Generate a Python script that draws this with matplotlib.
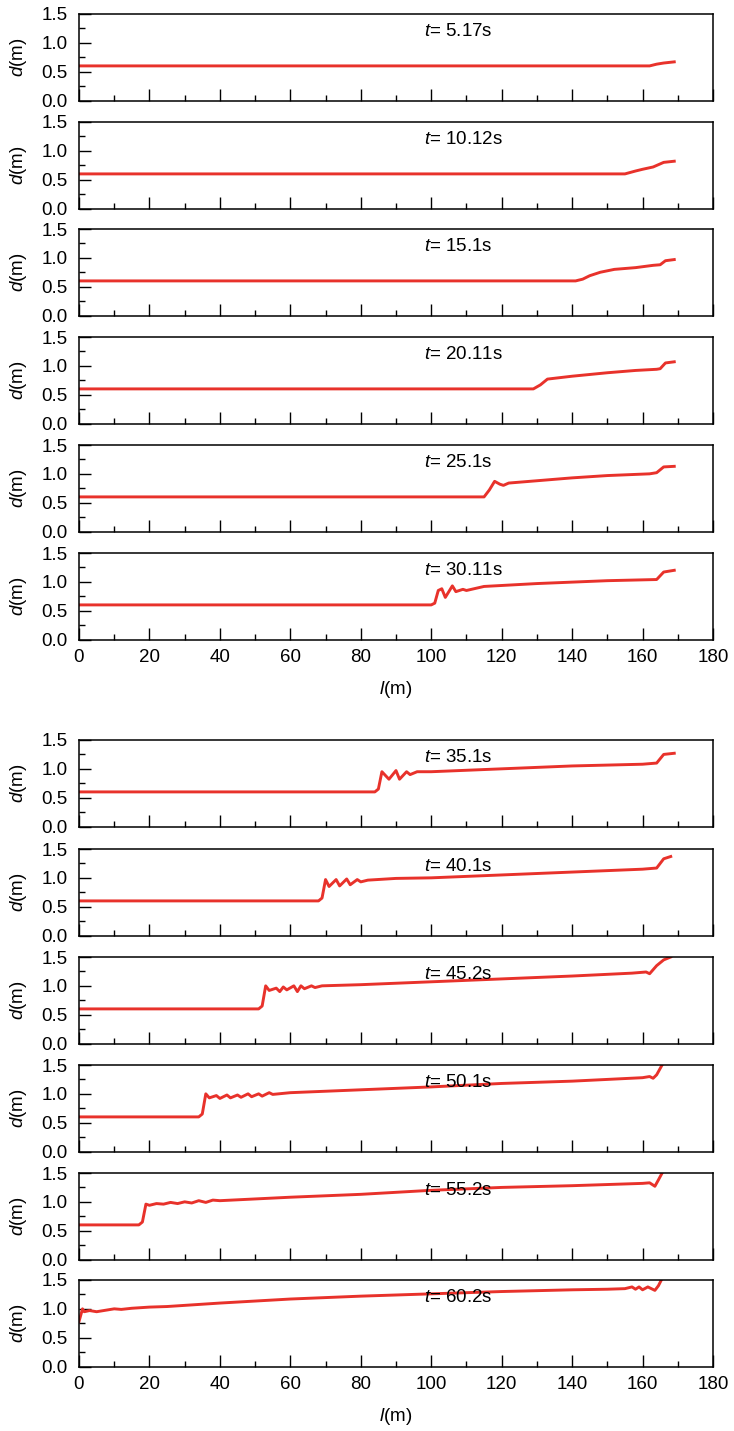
import matplotlib
matplotlib.use("Agg")
import matplotlib.pyplot as plt
from matplotlib.ticker import MultipleLocator

plt.rcParams['font.family'] = ['Liberation Sans', 'DejaVu Sans']
plt.rcParams['mathtext.fontset'] = 'custom'
plt.rcParams['mathtext.rm'] = 'Liberation Sans'
plt.rcParams['mathtext.it'] = 'Liberation Sans:italic'

times = ["5.17", "10.12", "15.1", "20.11", "25.1", "30.11",
         "35.1", "40.1", "45.2", "50.1", "55.2", "60.2"]

x1 = [0, 162, 164, 166, 169]
y1 = [0.6, 0.6, 0.63, 0.65, 0.67]

x2 = [0, 155, 158, 160, 163, 166, 169]
y2 = [0.6, 0.6, 0.65, 0.68, 0.72, 0.8, 0.82]

x3 = [0, 141, 143, 145, 148, 152, 158, 163, 165, 166.5, 169]
y3 = [0.6, 0.6, 0.63, 0.69, 0.75, 0.8, 0.83, 0.87, 0.88, 0.95, 0.97]

x4 = [0, 129, 131, 133, 140, 150, 158, 164, 165, 166.5, 169]
y4 = [0.6, 0.6, 0.67, 0.77, 0.82, 0.88, 0.92, 0.94, 0.95, 1.05, 1.07]

x5 = [0, 115, 116.5, 118, 119.5, 120.5, 122, 130, 140, 150, 162, 164, 166, 169]
y5 = [0.6, 0.6, 0.72, 0.87, 0.82, 0.8, 0.84, 0.88, 0.93, 0.97, 1.0, 1.02, 1.12, 1.13]

x6 = [0, 100, 101, 102, 103, 104, 106, 107, 109, 110, 115, 130, 150, 164, 166, 169]
y6 = [0.6, 0.6, 0.63, 0.85, 0.88, 0.73, 0.93, 0.83, 0.87, 0.85, 0.92, 0.97, 1.02, 1.04, 1.17, 1.2]

x7 = [0, 84, 85, 86, 88, 90, 91, 93, 94, 96, 100, 120, 140, 160, 164, 166, 169]
y7 = [0.6, 0.6, 0.65, 0.95, 0.82, 0.97, 0.82, 0.95, 0.9, 0.95, 0.95, 1.0, 1.05, 1.08, 1.1, 1.25, 1.27]

x8 = [0, 68, 69, 70, 71, 73, 74, 76, 77, 79, 80, 82, 90, 100, 120, 140, 160, 164, 166, 168]
y8 = [0.6, 0.6, 0.65, 0.97, 0.85, 0.97, 0.86, 0.98, 0.88, 0.97, 0.93, 0.96, 0.99, 1.0, 1.05, 1.1, 1.15, 1.17, 1.33, 1.37]

x9 = [0, 51, 52, 53, 54, 56, 57, 58, 59, 61, 62, 63, 64, 66, 67, 69, 80, 100, 120, 140,
      157, 161, 162, 164, 166, 168]
y9 = [0.6, 0.6, 0.65, 1.0, 0.92, 0.96, 0.9, 0.98, 0.93, 1.0, 0.9, 1.0, 0.95, 1.0, 0.97, 1.0,
      1.02, 1.07, 1.12, 1.17, 1.22, 1.24, 1.21, 1.35, 1.45, 1.5]

x10 = [0, 34, 35, 36, 37, 39, 40, 42, 43, 45, 46, 48, 49, 51, 52, 54, 55, 60, 80, 100,
       120, 140, 160, 162, 163, 164, 166]
y10 = [0.6, 0.6, 0.65, 1.0, 0.93, 0.97, 0.92, 0.98, 0.93, 0.98, 0.94, 1.0, 0.95, 1.0, 0.96,
       1.02, 0.99, 1.02, 1.07, 1.12, 1.18, 1.22, 1.28, 1.3, 1.27, 1.33, 1.55]

x11 = [0, 17, 18, 19, 20, 22, 24, 26, 28, 30, 32, 34, 36, 38, 40, 60, 80, 100, 120, 140,
       160, 162, 163.5, 164.5, 166]
y11 = [0.6, 0.6, 0.65, 0.96, 0.94, 0.97, 0.96, 0.99, 0.97, 1.0, 0.98, 1.02, 0.99, 1.03, 1.02,
       1.08, 1.13, 1.2, 1.25, 1.28, 1.32, 1.33, 1.27, 1.38, 1.55]

x12 = [0, 1, 1.5, 3, 5, 8, 10, 12, 15, 20, 25, 40, 60, 80, 100, 120, 140, 150, 155, 157,
       158, 159, 160, 161.5, 162.5, 163.5, 164.5, 166]
y12 = [0.78, 1.0, 0.95, 0.97, 0.95, 0.98, 1.0, 0.99, 1.01, 1.03, 1.04, 1.1, 1.17, 1.22, 1.26,
       1.3, 1.33, 1.34, 1.35, 1.38, 1.34, 1.38, 1.33, 1.38, 1.35, 1.32, 1.4, 1.58]

xs = [x1, x2, x3, x4, x5, x6, x7, x8, x9, x10, x11, x12]
ys = [y1, y2, y3, y4, y5, y6, y7, y8, y9, y10, y11, y12]

W, H = 734, 1431
fig = plt.figure(figsize=(W / 100, H / 100), dpi=100)

tops = [14, 122, 229, 337, 445, 553, 740, 849, 957, 1065, 1173, 1280]
ph = 86.5
left, right = 79, 713
red = '#e8322b'
fs = 13.5

for i in range(12):
    top = tops[i]
    ax = fig.add_axes([left / W, 1 - (top + ph) / H, (right - left) / W, ph / H])
    ax.plot(xs[i], ys[i], color=red, lw=2.1, solid_joinstyle='round')
    ax.set_xlim(0, 180)
    ax.set_ylim(0, 1.5)
    ax.xaxis.set_major_locator(MultipleLocator(20))
    ax.xaxis.set_minor_locator(MultipleLocator(10))
    ax.yaxis.set_major_locator(MultipleLocator(0.5))
    ax.yaxis.set_minor_locator(MultipleLocator(0.25))
    ax.tick_params(which='major', direction='in', length=8.5, width=1.0, labelsize=fs,
                   top=False, right=False)
    ax.tick_params(axis='y', which='major', pad=8)
    ax.tick_params(axis='x', which='major', pad=7)
    ax.tick_params(which='minor', direction='in', length=4.5, width=1.0,
                   top=False, right=False)
    ax.set_yticks([0, 0.5, 1.0, 1.5])
    ax.set_yticklabels(['0.0', '0.5', '1.0', '1.5'])
    for s in ax.spines.values():
        s.set_linewidth(1.1)
    ax.set_ylabel('$d$(m)', fontsize=fs, labelpad=9)
    ax.text(98, 1.2, '$t$= ' + times[i] + 's', fontsize=fs, ha='left', va='center')
    if i in (5, 11):
        ax.set_xlabel('$l$(m)', fontsize=fs, labelpad=9)
    else:
        ax.tick_params(axis='x', labelbottom=False)

fig.savefig('out.png', dpi=100)
